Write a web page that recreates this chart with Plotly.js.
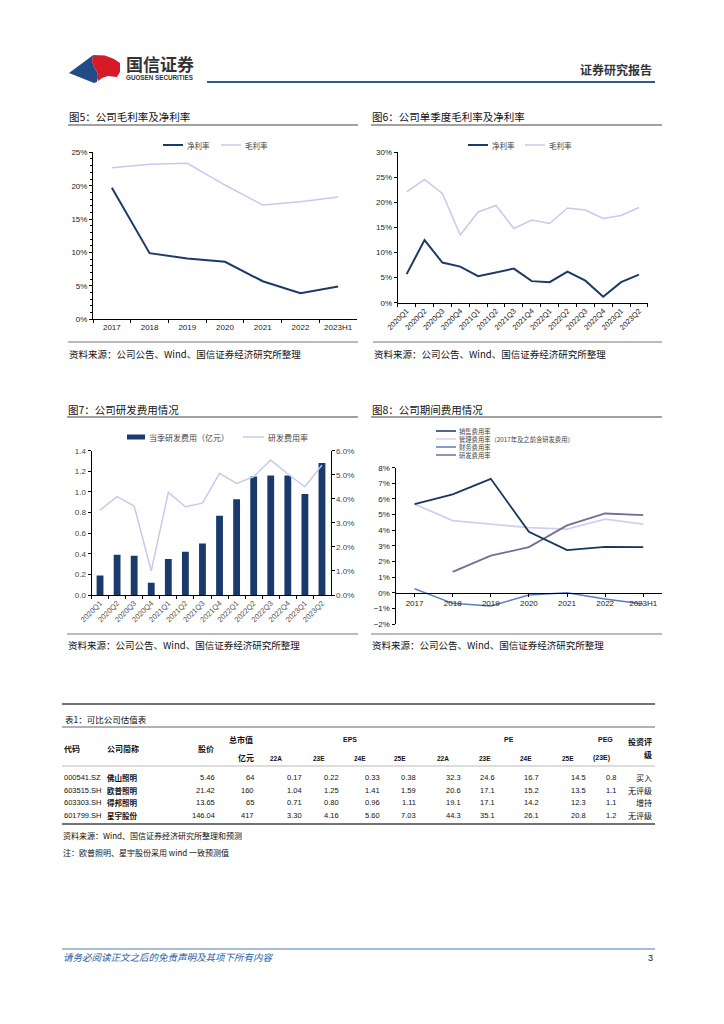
<!DOCTYPE html>
<html><head><meta charset="utf-8">
<script src="https://cdn.plot.ly/plotly-3.0.1.min.js"></script>
<style>html,body{margin:0;padding:0;background:#fff}#page{width:724px;height:1024px}</style>
</head><body><div id="page"></div>
<script>
// ---------------- DATA ----------------
const yearCats = ['2017','2018','2019','2020','2021','2022','2023H1'];
const fig5Net   = [19.7, 9.9, 9.1, 8.6, 5.7, 3.9, 4.9];
const fig5Gross = [22.7, 23.2, 23.35, 20.1, 17.1, 17.6, 18.3];

const quarterCats = ['2020Q1','2020Q2','2020Q3','2020Q4','2021Q1','2021Q2','2021Q3','2021Q4',
                     '2022Q1','2022Q2','2022Q3','2022Q4','2023Q1','2023Q2'];
const fig6Net   = [5.7, 12.5, 8.0, 7.2, 5.3, 6.1, 6.8, 4.3, 4.1, 6.2, 4.4, 1.2, 4.1, 5.6];
const fig6Gross = [22.1, 24.6, 21.8, 13.5, 18.1, 19.4, 14.8, 16.5, 15.8, 18.9, 18.5, 16.8, 17.4, 19.0];

const fig7Expense = [0.19, 0.39, 0.38, 0.12, 0.35, 0.42, 0.50, 0.77, 0.93, 1.15, 1.16, 1.16, 0.98, 1.28];
const fig7Rate    = [3.53, 4.09, 3.70, 1.00, 4.27, 3.67, 3.82, 5.06, 4.64, 4.92, 5.61, 5.03, 4.50, 5.40];

const fig8Sales   = [5.67, 6.29, 7.29, 3.90, 2.73, 2.94, 2.92];
const fig8Admin   = [5.67, 4.61, 4.39, 4.16, 4.07, 4.71, 4.39];
const fig8Finance = [0.26, -0.68, -0.85, -0.15, 0.00, -0.40, -0.72];
const fig8RD      = [null, 1.34, 2.37, 2.92, 4.31, 5.07, 4.97];

const tblCodes  = ['000541.SZ','603515.SH','603303.SH','601799.SH'];
const tblNames  = ['佛山照明','欧普照明','得邦照明','星宇股份'];
const tblPrice  = [5.46, 21.42, 13.65, 146.04];
const tblMcap   = [64, 160, 65, 417];
const tblEps22A = [0.17, 1.04, 0.71, 3.30];
const tblEps23E = [0.22, 1.25, 0.80, 4.16];
const tblEps24E = [0.33, 1.41, 0.96, 5.60];
const tblEps25E = [0.38, 1.59, 1.11, 7.03];
const tblPe22A  = [32.3, 20.6, 19.1, 44.3];
const tblPe23E  = [24.6, 17.1, 17.1, 35.1];
const tblPe24E  = [16.7, 15.2, 14.2, 26.1];
const tblPe25E  = [14.5, 13.5, 12.3, 20.8];
const tblPeg    = [0.8, 1.1, 1.1, 1.2];
const tblRating = ['买入','无评级','增持','无评级'];
const tblYears  = ['22A','23E','24E','25E'];

// ---------------- HELPERS ----------------
const W = 724, H = 1024;
const X = v => v / W, Y = v => 1 - v / H;
const CJK = '"Noto Sans CJK SC", "Liberation Sans", sans-serif';
const LAT = '"Liberation Sans", Arial, "Noto Sans CJK SC", sans-serif';
const NAVY = '#1b3a66', LAV = '#c8c8ee', BAR = '#1a3a6c';
const S_SALES = '#17365d', S_ADMIN = '#cfd0f0', S_FIN = '#5b7dc2', S_RD = '#7a6a96';

const annotations = [], shapes = [];
function txt(x, y, text, o) {
  o = o || {};
  annotations.push({
    xref: 'paper', yref: 'paper', x: X(x), y: Y(y), text: text, showarrow: false,
    xanchor: o.anchor || 'left', yanchor: 'middle',
    font: {family: o.family || CJK, size: o.size || 9, color: o.color || '#111',
           weight: o.bold ? 'bold' : 'normal', style: o.italic ? 'italic' : 'normal'},
    borderpad: 0
  });
}
function hline(x0, x1, y, color, width) {
  shapes.push({type: 'line', xref: 'paper', yref: 'paper', x0: X(x0), x1: X(x1), y0: Y(y), y1: Y(y),
               line: {color: color, width: width}});
}
function rect(x0, x1, y0, y1, color) {
  shapes.push({type: 'rect', xref: 'paper', yref: 'paper', x0: X(x0), x1: X(x1), y0: Y(y1), y1: Y(y0),
               fillcolor: color, line: {width: 0}});
}
function poly(pts, color) {
  const d = pts.map((p, i) => (i ? 'L' : 'M') + X(p[0]).toFixed(5) + ',' + Y(p[1]).toFixed(5)).join(' ') + ' Z';
  shapes.push({type: 'path', xref: 'paper', yref: 'paper', path: d, fillcolor: color, line: {width: 0}});
}

// ---------------- HEADER ----------------
poly([[69,73],[93.3,55],[92,61],[94,67],[97,72],[98,77],[97,82],[94,83]], '#1f4b86');
poly([[93.3,55],[105,55.5],[114,59],[120,63],[120,72],[117,77],[108,76],[102,78],[98,81],[98,77],[97,72],[94,67],[92,61]], '#d71a28');
txt(125, 63, '国信证券', {size: 17, bold: true, color: '#333'});
txt(125, 77, 'GUOSEN SECURITIES', {size: 6.3, bold: true, color: '#333', family: LAT});
txt(653, 69, '证券研究报告', {size: 12, bold: true, color: '#333', anchor: 'right'});
hline(207, 655, 82, '#2c5b8c', 2);

// ---------------- SECTION TITLES / SOURCES ----------------
const SRC = '资料来源：公司公告、Wind、国信证券经济研究所整理';
txt(68, 116, '图5：公司毛利率及净利率', {size: 10.5});
hline(68, 358, 125, '#444', 1.2);
txt(371, 116, '图6：公司单季度毛利率及净利率', {size: 10.5});
hline(371, 662, 125, '#444', 1.2);
hline(68, 358, 342, '#777', 1);
txt(68, 354, SRC, {size: 9.5});
hline(373, 662, 342, '#777', 1);
txt(373, 354, SRC, {size: 9.5});

txt(67, 409, '图7：公司研发费用情况', {size: 10.5});
hline(67, 358, 417, '#444', 1.2);
txt(371, 409, '图8：公司期间费用情况', {size: 10.5});
hline(371, 662, 417, '#444', 1.2);
hline(67, 358, 634, '#777', 1);
txt(67, 645, SRC, {size: 9.5});
hline(371, 662, 634, '#777', 1);
txt(371, 645, SRC, {size: 9.5});

// ---------------- LEGENDS ----------------
const LG = {size: 7.5, color: '#444'};
hline(163, 183, 145, NAVY, 2);   txt(186, 145, '净利率', LG);
hline(221, 241, 145, LAV, 1.5);  txt(244, 145, '毛利率', LG);
hline(468, 488, 145, NAVY, 2);   txt(491, 145, '净利率', LG);
hline(525, 545, 145, LAV, 1.5);  txt(548, 145, '毛利率', LG);
rect(127, 145, 434.5, 439.5, BAR); txt(148, 437, '当季研发费用（亿元）', {size: 8, color: '#444'});
hline(243, 264, 437, LAV, 1.5);  txt(267, 437, '研发费用率', {size: 8, color: '#444'});
const fig8Legend = [['销售费用率', S_SALES], ['管理费用率（2017年及之前含研发费用）', S_ADMIN],
                    ['财务费用率', S_FIN], ['研发费用率', S_RD]];
fig8Legend.forEach((e, i) => {
  const yy = 431 + i * 8;
  hline(436, 456, yy, e[1], 1.5);
  txt(458, yy, e[0], {size: 6.3, color: '#444'});
});

// ---------------- TABLE ----------------
hline(62, 655, 704, '#444', 1.3);
txt(64, 719, '表1：可比公司估值表', {size: 8.5});
hline(62, 655, 727, '#999', 1.6);
const HB = {bold: true, size: 8};
txt(63, 748, '代码', HB);
txt(106, 748, '公司简称', HB);
txt(197, 748, '股价', HB);
txt(228, 739, '总市值', HB);
txt(255, 757, '亿元', Object.assign({anchor: 'right'}, HB));
txt(342, 739, 'EPS', {bold: true, size: 7, family: LAT});
txt(503, 739, 'PE', {bold: true, size: 7, family: LAT});
txt(597, 739, 'PEG', {bold: true, size: 7, family: LAT});
txt(592, 758, '(23E)', {bold: true, size: 7, family: LAT});
txt(653, 741, '投资评', Object.assign({anchor: 'right'}, HB));
txt(653, 754, '级', Object.assign({anchor: 'right'}, HB));
const epsHdrX = [269, 312, 353, 393], peHdrX = [436, 478, 519, 561];
tblYears.forEach((t, i) => {
  txt(epsHdrX[i], 758, t, {bold: true, size: 6.5, family: LAT});
  txt(peHdrX[i], 758, t, {bold: true, size: 6.5, family: LAT});
});
hline(62, 655, 766, '#aaa', 0.8);
const NUM = {size: 7.5, family: LAT, anchor: 'right'};
const cols = [
  {x: 63,  d: tblCodes,  f: v => v, o: {size: 7.5, family: LAT}},
  {x: 106, d: tblNames,  f: v => v, o: {size: 7.5, bold: true}},
  {x: 216, d: tblPrice,  f: v => v.toFixed(2), o: NUM},
  {x: 255, d: tblMcap,   f: v => String(v), o: NUM},
  {x: 303, d: tblEps22A, f: v => v.toFixed(2), o: NUM},
  {x: 340, d: tblEps23E, f: v => v.toFixed(2), o: NUM},
  {x: 381, d: tblEps24E, f: v => v.toFixed(2), o: NUM},
  {x: 417, d: tblEps25E, f: v => v.toFixed(2), o: NUM},
  {x: 462, d: tblPe22A,  f: v => v.toFixed(1), o: NUM},
  {x: 496, d: tblPe23E,  f: v => v.toFixed(1), o: NUM},
  {x: 540, d: tblPe24E,  f: v => v.toFixed(1), o: NUM},
  {x: 587, d: tblPe25E,  f: v => v.toFixed(1), o: NUM},
  {x: 617, d: tblPeg,    f: v => v.toFixed(1), o: NUM},
  {x: 653, d: tblRating, f: v => v, o: {size: 8, anchor: 'right'}}
];
const rowY = [777, 790, 802.5, 815];
cols.forEach(c => c.d.forEach((v, r) => txt(c.x, rowY[r], c.f(v), c.o)));
hline(62, 655, 824, '#444', 1.3);
txt(62, 835, '资料来源：Wind、国信证券经济研究所整理和预测', {size: 8});
txt(62, 852, '注：欧普照明、星宇股份采用 wind 一致预测值', {size: 8});

// ---------------- FOOTER ----------------
hline(62, 655, 949, '#4f7db3', 1);
txt(62, 957, '<i>请务必阅读正文之后的免责声明及其项下所有内容</i>', {size: 9.5, color: '#2a62a5'});
txt(654, 958, '3', {size: 9, anchor: 'right', family: LAT, color: '#111'});

// ---------------- TRACES ----------------
const traces = [
  {type: 'scatter', mode: 'lines', x: yearCats, y: fig5Gross, xaxis: 'x', yaxis: 'y', line: {color: LAV, width: 1.5}, name: '毛利率'},
  {type: 'scatter', mode: 'lines', x: yearCats, y: fig5Net, xaxis: 'x', yaxis: 'y', line: {color: NAVY, width: 2}, name: '净利率'},
  {type: 'scatter', mode: 'lines', x: quarterCats, y: fig6Gross, xaxis: 'x2', yaxis: 'y2', line: {color: LAV, width: 1.5}, name: '毛利率'},
  {type: 'scatter', mode: 'lines', x: quarterCats, y: fig6Net, xaxis: 'x2', yaxis: 'y2', line: {color: NAVY, width: 2}, name: '净利率'},
  {type: 'bar', x: quarterCats, y: fig7Expense, xaxis: 'x3', yaxis: 'y3', marker: {color: BAR}, width: 0.4, name: '当季研发费用（亿元）'},
  {type: 'scatter', mode: 'lines', x: quarterCats, y: fig7Rate, xaxis: 'x3', yaxis: 'y5', line: {color: LAV, width: 1.5}, name: '研发费用率'},
  {type: 'scatter', mode: 'lines', x: yearCats, y: fig8Admin, xaxis: 'x4', yaxis: 'y4', line: {color: S_ADMIN, width: 1.8}, name: '管理费用率'},
  {type: 'scatter', mode: 'lines', x: yearCats, y: fig8RD, xaxis: 'x4', yaxis: 'y4', line: {color: S_RD, width: 1.8}, name: '研发费用率'},
  {type: 'scatter', mode: 'lines', x: yearCats, y: fig8Finance, xaxis: 'x4', yaxis: 'y4', line: {color: S_FIN, width: 1.5}, name: '财务费用率'},
  {type: 'scatter', mode: 'lines', x: yearCats, y: fig8Sales, xaxis: 'x4', yaxis: 'y4', line: {color: S_SALES, width: 1.8}, name: '销售费用率'}
];

const TF = {family: LAT, size: 8, color: '#222'};
function xa(d, n, extra) {
  return Object.assign({domain: d, type: 'category', range: [-0.5, n - 0.5], showline: true, linecolor: '#000',
    linewidth: 1, ticks: 'outside', ticklen: 3, tickcolor: '#000', tickson: 'boundaries', showgrid: false,
    zeroline: false, tickfont: TF, fixedrange: true}, extra || {});
}
function ya(d, r, dt, extra) {
  return Object.assign({domain: d, range: r, dtick: dt, showline: true, linecolor: '#000', linewidth: 1,
    ticks: 'outside', ticklen: 3, tickcolor: '#000', showgrid: false, zeroline: false, tickfont: TF,
    fixedrange: true}, extra || {});
}

const layout = {
  width: W, height: H, margin: {l: 0, r: 0, t: 0, b: 0}, showlegend: false,
  paper_bgcolor: '#fff', plot_bgcolor: 'rgba(0,0,0,0)', font: {family: CJK},
  xaxis:  xa([X(93), X(357)], 7, {anchor: 'y'}),
  yaxis:  ya([Y(319.3), Y(152.3)], [0, 25], 5, {anchor: 'x', ticksuffix: '%',
            minor: {dtick: 1, ticks: 'outside', ticklen: 2, tickcolor: '#000'}}),
  xaxis2: xa([X(397.7), X(647.9)], 14, {anchor: 'y2', tickangle: -45, tickfont: {family: LAT, size: 7.5, color: '#222'}}),
  yaxis2: ya([Y(302.7), Y(152.3)], [0, 30], 5, {anchor: 'x2', ticksuffix: '%'}),
  xaxis3: xa([X(91.5), X(330.5)], 14, {anchor: 'y3', tickangle: -45, tickfont: {family: LAT, size: 7.5, color: '#555'}}),
  yaxis3: ya([Y(595), Y(450.7)], [0, 1.4], 0.2, {anchor: 'x3', tickformat: '.1f', tickfont: {family: LAT, size: 8, color: '#444'}}),
  yaxis5: ya([Y(595), Y(450.7)], [0, 6], 1, {anchor: 'x3', overlaying: 'y3', side: 'right', tickformat: '.1f',
            ticksuffix: '%', tickfont: {family: LAT, size: 8, color: '#444'}}),
  xaxis4: xa([X(395.5), X(662.3)], 7, {anchor: 'free', position: Y(592.7), tickson: 'labels'}),
  yaxis4: ya([Y(624), Y(467.7)], [-2, 8], 1, {anchor: 'x4', ticksuffix: '%'}),
  shapes: shapes, annotations: annotations
};

Plotly.newPlot('page', traces, layout, {staticPlot: true, displayModeBar: false});
</script></body></html>
